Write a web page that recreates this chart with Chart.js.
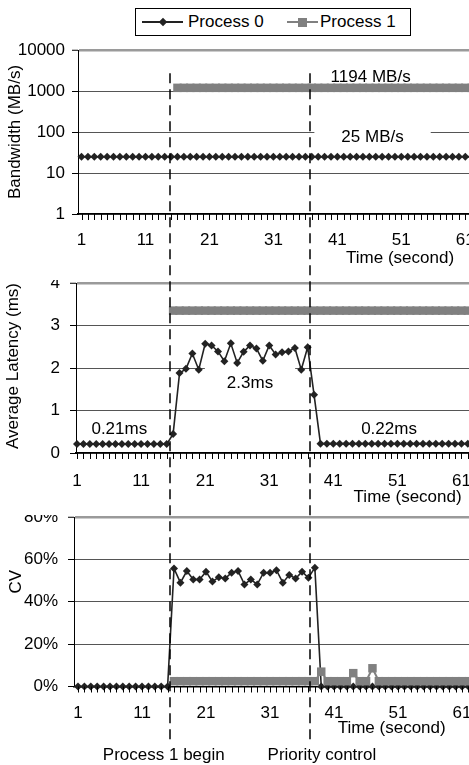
<!DOCTYPE html>
<html>
<head>
<meta charset="utf-8">
<script src="https://cdn.jsdelivr.net/npm/chart.js@4.4.1/dist/chart.umd.min.js"></script>
<style>
  html, body { margin: 0; padding: 0; background: #fff; overflow: hidden; }
  #page { position: relative; width: 469px; height: 765px; overflow: hidden; font-family: "Liberation Sans", Arial, sans-serif; color: #000; }
  canvas.panel { position: absolute; left: 0; }
  #overlay { position: absolute; left: 0; top: 0; pointer-events: none; }
  #legend { position: absolute; left: 135px; top: 8px; width: 274px; height: 26px; border: 1px solid #000; font-size: 17px; background: #fff; }
  #legend .txt { position: absolute; top: 0; line-height: 26px; white-space: nowrap; }
  #legend .swatch { position: absolute; top: 12px; height: 2px; }
  #legend .mark { position: absolute; top: 50%; left: 50%; }
</style>
</head>
<body>
<div id="page">
  <div id="legend">
    <div class="swatch" style="left:6px; width:41px; background:#222">
      <div class="mark" style="width:6px; height:6px; margin:-3px 0 0 -3px; background:#222; transform:rotate(45deg)"></div>
    </div>
    <div class="txt" style="left:52px">Process 0</div>
    <div class="swatch" style="left:151px; width:31px; background:#808080">
      <div class="mark" style="width:9px; height:9px; margin:-4.5px 0 0 -4.5px; background:#808080"></div>
    </div>
    <div class="txt" style="left:184px">Process 1</div>
  </div>
  <canvas id="bw-chart" class="panel" width="480" height="240" style="top:40px"></canvas>
  <canvas id="lat-chart" class="panel" width="480" height="235" style="top:280px"></canvas>
  <canvas id="cv-chart" class="panel" width="480" height="250" style="top:515px"></canvas>
  <canvas id="overlay" width="469" height="765"></canvas>
</div>
<script>
// time axis, one sample per second
let seconds = [
    1, 2, 3, 4, 5, 6, 7, 8, 9, 10, 11, 12, 13, 14, 15, 16,
    17, 18, 19, 20, 21, 22, 23, 24, 25, 26, 27, 28, 29, 30, 31, 32,
    33, 34, 35, 36, 37, 38, 39, 40, 41, 42, 43, 44, 45, 46, 47, 48,
    49, 50, 51, 52, 53, 54, 55, 56, 57, 58, 59, 60, 61, 62, 63
]

// bandwidth (MB/s)
let bandwidthP0 = [
    25, 25, 25, 25, 25, 25, 25, 25, 25, 25, 25, 25, 25, 25, 25, 25,
    25, 25, 25, 25, 25, 25, 25, 25, 25, 25, 25, 25, 25, 25, 25, 25,
    25, 25, 25, 25, 25, 25, 25, 25, 25, 25, 25, 25, 25, 25, 25, 25,
    25, 25, 25, 25, 25, 25, 25, 25, 25, 25, 25, 25, 25, 25, 25
]
let bandwidthP1 = [
    null, null, null, null, null, null, null, null, null, null, null, null, null, null, null, 1194,
    1194, 1194, 1194, 1194, 1194, 1194, 1194, 1194, 1194, 1194, 1194, 1194, 1194, 1194, 1194, 1194,
    1194, 1194, 1194, 1194, 1194, 1194, 1194, 1194, 1194, 1194, 1194, 1194, 1194, 1194, 1194, 1194,
    1194, 1194, 1194, 1194, 1194, 1194, 1194, 1194, 1194, 1194, 1194, 1194, 1194, 1194, 1194
]

// average latency (ms)
let latencyP0 = [
    0.21, 0.21, 0.21, 0.21, 0.21, 0.21, 0.21, 0.21, 0.21, 0.21, 0.21, 0.21, 0.21, 0.21, 0.21, 0.45,
    1.88, 1.98, 2.34, 1.96, 2.57, 2.53, 2.39, 2.16, 2.58, 2.12, 2.38, 2.53, 2.46, 2.17, 2.53, 2.32,
    2.37, 2.39, 2.47, 1.96, 2.49, 1.37, 0.22, 0.22, 0.22, 0.22, 0.22, 0.22, 0.22, 0.22, 0.22, 0.22,
    0.22, 0.22, 0.22, 0.22, 0.22, 0.22, 0.22, 0.22, 0.22, 0.22, 0.22, 0.22, 0.22, 0.22, 0.22
]
let latencyP1 = [
    null, null, null, null, null, null, null, null, null, null, null, null, null, null, null, 3.35,
    3.35, 3.35, 3.35, 3.35, 3.35, 3.35, 3.35, 3.35, 3.35, 3.35, 3.35, 3.35, 3.35, 3.35, 3.35, 3.35,
    3.35, 3.35, 3.35, 3.35, 3.35, 3.35, 3.35, 3.35, 3.35, 3.35, 3.35, 3.35, 3.35, 3.35, 3.35, 3.35,
    3.35, 3.35, 3.35, 3.35, 3.35, 3.35, 3.35, 3.35, 3.35, 3.35, 3.35, 3.35, 3.35, 3.35, 3.35
]

// coefficient of variation (%)
let cvP0 = [
    0, 0, 0, 0, 0, 0, 0, 0, 0, 0, 0, 0, 0, 0, 0, 55.7,
    49.0, 54.5, 50.5, 50.5, 54.2, 49.5, 51.6, 51.0, 53.7, 54.5, 48.2, 50.5, 48.2, 53.7, 53.7, 54.9,
    49.0, 52.6, 51.0, 54.2, 51.3, 56.1, 0, 0, 0, 0, 0, 0, 0, 0, 0, 0,
    0, 0, 0, 0, 0, 0, 0, 0, 0, 0, 0, 0, 0, 0, 0
]
let cvP1 = [
    null, null, null, null, null, null, null, null, null, null, null, null, null, null, null, 2.5,
    2.5, 2.5, 2.5, 2.5, 2.5, 2.5, 2.5, 2.5, 2.5, 2.5, 2.5, 2.5, 2.5, 2.5, 2.5, 2.5,
    2.5, 2.5, 2.5, 2.5, 2.5, 2.5, 7.0, 2.5, 2.5, 2.5, 2.5, 6.3, 2.5, 2.5, 8.6, 2.5,
    2.5, 2.5, 2.5, 2.5, 2.5, 2.5, 2.5, 2.5, 2.5, 2.5, 2.5, 2.5, 2.5, 2.5, 2.5
]

// y ticks of each panel
let bandwidthTicks = [1, 10, 100, 1000, 10000]
let latencyTicks = [0, 1, 2, 3, 4]
let cvTicks = [0, 20, 40, 60, 80]

// moments marked with the dashed lines (seconds)
let events = [15.5, 37.4]

const FONT_FAMILY = '"Liberation Sans", Arial, sans-serif'
const FONT = '17px ' + FONT_FAMILY
Chart.defaults.font.family = FONT_FAMILY
Chart.defaults.font.size = 17
Chart.defaults.color = '#000'

let darkColor = '#222'
let grayColor = '#808080'

// draws free text: labels inside the plot, texts under the x axis and the y title
function makeNotes(panel) {
    return {
        id: 'notes',
        beforeDatasetsDraw(chart) {
            let ctx = chart.ctx
            let xs = chart.scales.x
            let ys = chart.scales.y
            ctx.save()
            ctx.font = FONT
            ctx.textAlign = 'center'
            ctx.textBaseline = 'middle'
            panel.inPlot.forEach(function(n) {
                let px = xs.getPixelForValue(n.x)
                let py = ys.getPixelForValue(n.y)
                if (n.box) {
                    let w = ctx.measureText(n.text).width + 2 * n.box[0]
                    ctx.fillStyle = '#fff'
                    ctx.fillRect(px - w / 2, py - 8.5 - n.box[1], w, 17 + 2 * n.box[1])
                }
                ctx.fillStyle = '#000'
                ctx.fillText(n.text, px, py)
            })
            ctx.restore()
        },
        afterDraw(chart) {
            let ctx = chart.ctx
            let area = chart.chartArea
            let xs = chart.scales.x
            ctx.save()
            // small tick for every second under the x axis
            ctx.strokeStyle = '#000'
            ctx.lineWidth = 1
            ctx.beginPath()
            seconds.forEach(function(t) {
                let px = Math.round(xs.getPixelForValue(t)) + 0.5
                ctx.moveTo(px, area.bottom)
                ctx.lineTo(px, area.bottom + 6)
            })
            ctx.stroke()

            ctx.font = FONT
            ctx.fillStyle = '#000'
            ctx.textAlign = 'center'
            ctx.textBaseline = 'middle'
            panel.under.forEach(function(n) {
                ctx.fillText(n.text, xs.getPixelForValue(n.x), area.bottom + n.dy)
            })
            // rotated y axis title
            ctx.translate(panel.yTitle.x, (area.top + area.bottom) / 2 + panel.yTitle.dy)
            ctx.rotate(-Math.PI / 2)
            ctx.fillText(panel.yTitle.text, 0, 0)
            ctx.restore()
        }
    }
}

function makePanel(canvasId, panel, datasets, yOptions) {
    let yTop = yOptions.ticksList[yOptions.ticksList.length - 1]
    let y = Object.assign({}, yOptions.scale, {
        position: 'left',
        afterBuildTicks: function(s) { s.ticks = yOptions.ticksList.map(v => ({ value: v })) },
        afterFit: function(s) { s.width = panel.axisX; s.paddingTop = 0; s.paddingBottom = 0 },
        grid: {
            color: ctx => ctx.tick && ctx.tick.value === yTop ? '#9a9a9a' : '#555',
            lineWidth: ctx => ctx.tick && ctx.tick.value === yTop ? 2.5 : 1,
            tickLength: 6,
            tickColor: '#000',
            tickWidth: 1
        },
        border: { color: '#000', width: 1 },
        ticks: { padding: panel.yPad, callback: yOptions.format, autoSkip: false }
    })

    return new Chart(document.getElementById(canvasId), {
        type: 'line',
        data: { labels: seconds, datasets: datasets },
        options: {
            responsive: false,
            animation: false,
            events: [],
            layout: { autoPadding: false, padding: { top: panel.areaTop, left: 0, right: 0, bottom: 0 } },
            plugins: { legend: { display: false }, tooltip: { enabled: false } },
            scales: {
                x: {
                    type: 'linear',
                    min: panel.xMin,
                    max: panel.xMax,
                    afterBuildTicks: function(s) { s.ticks = seconds.map(v => ({ value: v })) },
                    afterFit: function(s) { s.height = panel.xHeight; s.paddingLeft = 0; s.paddingRight = 0 },
                    grid: { display: false, tickLength: 6 },
                    border: { color: '#000', width: 1.5 },
                    ticks: {
                        autoSkip: false,
                        maxRotation: 0,
                        padding: panel.xPad,
                        callback: v => (v - 1) % 10 === 0 ? String(v) : ''
                    }
                },
                y: y
            }
        },
        plugins: [makeNotes(panel)]
    })
}

function process0(data) {
    return {
        label: 'Process 0', data: data, order: 1, clip: false,
        borderColor: darkColor, borderWidth: 1.6,
        pointStyle: 'rectRot', pointRadius: 4,
        pointBackgroundColor: darkColor, pointBorderColor: darkColor, pointBorderWidth: 0
    }
}

function process1(data) {
    return {
        label: 'Process 1', data: data, order: 0, clip: false,
        borderColor: grayColor, borderWidth: 2,
        pointStyle: 'rect', pointRadius: 6,
        pointBackgroundColor: grayColor, pointBorderColor: grayColor, pointBorderWidth: 0,
        spanGaps: false
    }
}

// panel geometry (canvas pixels) and free texts
let bwPanel = {
    axisX: 78, areaTop: 10, xHeight: 66, xMin: 0.45, xMax: 63.3, xPad: 10, yPad: 7,
    inPlot: [
        { text: '1194 MB/s', x: 46.2, y: 2200 },
        { text: '25 MB/s', x: 46.5, y: 74, box: [27, 1.5] }
    ],
    under: [ { text: 'Time (second)', x: 50.8, dy: 44 } ],
    yTitle: { text: 'Bandwidth (MB/s)', x: 15, dy: 0 }
}
let latPanel = {
    axisX: 76, areaTop: 3, xHeight: 62, xMin: 0.84, xMax: 63.9, xPad: 12, yPad: 10,
    inPlot: [
        { text: '2.3ms', x: 28, y: 1.65, box: [22, 8] },
        { text: '0.21ms', x: 7.6, y: 0.56 },
        { text: '0.22ms', x: 49.7, y: 0.56 }
    ],
    under: [ { text: 'Time (second)', x: 52.6, dy: 44 } ],
    yTitle: { text: 'Average Latency (ms)', x: 13.5, dy: -2 }
}
let cvPanel = {
    axisX: 74, areaTop: 2, xHeight: 78.5, xMin: 0.375, xMax: 63.8, xPad: 11, yPad: 10,
    inPlot: [],
    under: [
        { text: 'Time (second)', x: 50.0, dy: 41.5 },
        { text: 'Process 1 begin', x: 14.4, dy: 69 },
        { text: 'Priority control', x: 39.1, dy: 69 }
    ],
    yTitle: { text: 'CV', x: 16, dy: -20 }
}

let bwChart = makePanel('bw-chart', bwPanel,
    [process0(bandwidthP0), process1(bandwidthP1)],
    { scale: { type: 'logarithmic', min: 1, max: 10000 }, ticksList: bandwidthTicks, format: v => String(v) })

let latChart = makePanel('lat-chart', latPanel,
    [process0(latencyP0), process1(latencyP1)],
    { scale: { type: 'linear', min: 0, max: 4 }, ticksList: latencyTicks, format: v => String(v) })

let cvChart = makePanel('cv-chart', cvPanel,
    [process0(cvP0), process1(cvP1)],
    { scale: { type: 'linear', min: 0, max: 80 }, ticksList: cvTicks, format: v => v + '%' })

// dashed event lines run across all three panels
let overlay = document.getElementById('overlay')
let octx = overlay.getContext('2d')
let lineTop = 40 + bwChart.scales.y.getPixelForValue(2700)
let lineBottom = 515 + cvChart.chartArea.bottom + 56
octx.strokeStyle = '#000'
octx.lineWidth = 1.5
octx.setLineDash([10, 6])
events.forEach(function(t) {
    let x = Math.round(latChart.scales.x.getPixelForValue(t))
    octx.beginPath()
    octx.moveTo(x, lineTop)
    octx.lineTo(x, lineBottom)
    octx.stroke()
})
</script>
</body>
</html>
